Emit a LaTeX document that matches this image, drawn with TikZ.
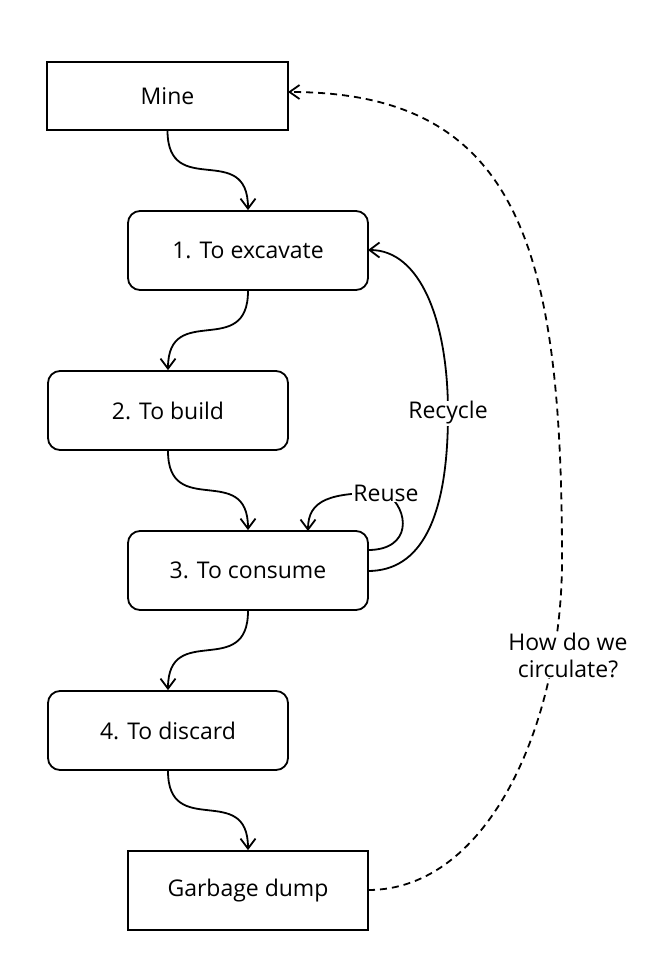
\documentclass[tikz,border=0pt]{standalone}
\usepackage{fontspec}
\setmainfont{Open Sans}
\usetikzlibrary{arrows.meta}
\begin{document}
\begin{tikzpicture}[x=1pt,y=-1pt,
  every node/.style={font=\fontsize{23}{27}\selectfont},
  sqbox/.style={draw,line width=1.8pt,minimum width=240pt,minimum height=79pt,inner sep=0pt},
  rbox/.style={sqbox,rounded corners=12pt},
  conn/.style={line width=1.8pt,-{Straight Barb[length=10pt,width=15pt,line width=1.8pt]}},
  plainconn/.style={line width=1.8pt},
  dconn/.style={line width=1.8pt,dash pattern=on 7pt off 5pt,-{Straight Barb[length=10pt,width=14pt,line width=1.8pt]}},
  lbl/.style={fill=white,inner sep=1pt,align=center}]
\useasboundingbox (0,0) rectangle (669,980);
\node[sqbox,minimum width=241pt,minimum height=68pt] (mine) at (167.5,96) {Mine};
\node[rbox] (exc) at (248,250.5) {1. To excavate};
\node[rbox] (bld) at (168,410.5) {2. To build};
\node[rbox] (con) at (248,570.5) {3. To consume};
\node[rbox] (dis) at (168,730.5) {4. To discard};
\node[sqbox] (gar) at (248,890.5) {Garbage dump};

\draw[conn] (mine.south) .. controls (168,200) and (248,140) .. (exc.north);
\draw[conn] (exc.south) .. controls (248,360) and (168,301) .. (bld.north);
\draw[conn] (bld.south) .. controls (168,520) and (248,461) .. (con.north);
\draw[conn] (con.south) .. controls (248,680) and (168,621) .. (dis.north);
\draw[conn] (dis.south) .. controls (168,840) and (248,781) .. (gar.north);

% Recycle
\coordinate (recp) at (448,413);
\coordinate (conr) at (368,571);
\coordinate (excr) at (368,250);
\draw[conn] (conr) .. controls (420,571) and (448,520) .. (recp)
  .. controls (448,320) and (420,250) .. (excr);
\node[lbl] (rec) at (recp) {Recycle};

% Reuse
\coordinate (reup) at (386,493);
\coordinate (conr2) at (368,550);
\coordinate (cont) at (308,531);
\draw[plainconn] (conr2) .. controls (412,550) and (410,510) .. (reup);
\draw[conn] (reup) .. controls (330,492) and (308,500) .. (cont);
\node[lbl] (reu) at (reup) {Reuse};

% Circulate
\coordinate (cirp) at (562,560);
\coordinate (garr) at (368,890);
\coordinate (miner) at (288,92);
\draw[dconn] (garr) .. controls (490,890) and (562,720) .. (cirp)
  .. controls (562,250) and (520,92) .. (miner);
\node[lbl] (cir) at (568,655) {How do we\\circulate?};
\end{tikzpicture}
\end{document}
